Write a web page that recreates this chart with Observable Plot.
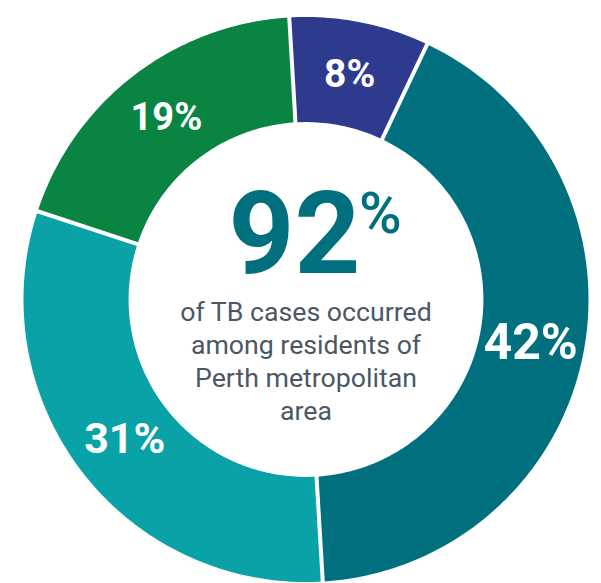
<!DOCTYPE html>
<html><head><meta charset="utf-8">
<script src="https://cdn.jsdelivr.net/npm/d3@7"></script>
<script src="https://cdn.jsdelivr.net/npm/@observablehq/plot@0.6"></script>
<style>html,body{margin:0;padding:0;background:#fff;} #chart svg{display:block}</style>
</head><body><div id="chart"></div>
<script>
// Data
const segments = ["Segment A", "Segment B", "Segment C", "Segment D"];
const shares = [8, 42, 31, 19];
const centerValue = ["92"];
const centerCaption = ["of TB cases occurred\namong residents of\nPerth metropolitan\narea"];

// Styling
const palette = ["#2e3a8e", "#00707f", "#09a3a7", "#0a8442"];
const labelSizes = [39, 50, 43, 38];
const W = 601, H = 583, CX = 305.5, CY = 299, R = 282.5;
const R_IN = 0.628, R_OUT = 1, R_LABEL = 0.81;
const startDeg = -3.4;

const start = startDeg * Math.PI / 180;
const arcs = d3.pie().sort(null).value(d => d.share)
  .startAngle(start).endAngle(start + 2 * Math.PI)(
    segments.map((s, i) => ({segment: s, share: shares[i], i})));

const ring = [];
arcs.forEach(a => {
  const n = Math.max(12, Math.ceil(360 * (a.endAngle - a.startAngle) / (2 * Math.PI)));
  for (let k = 0; k <= n; k++) {
    const t = a.startAngle + (a.endAngle - a.startAngle) * k / n;
    ring.push({segment: a.data.segment, x: R_OUT * Math.sin(t), y: R_OUT * Math.cos(t)});
  }
  for (let k = n; k >= 0; k--) {
    const t = a.startAngle + (a.endAngle - a.startAngle) * k / n;
    ring.push({segment: a.data.segment, x: R_IN * Math.sin(t), y: R_IN * Math.cos(t)});
  }
});

const mid = a => (a.startAngle + a.endAngle) / 2;

const chart = Plot.plot({
  width: W, height: H,
  margin: 0,
  style: {fontFamily: "Roboto, 'Noto Sans', sans-serif", background: "#fff"},
  x: {domain: [-CX / R, (W - CX) / R], range: [0, W], axis: null},
  y: {domain: [-(H - CY) / R, CY / R], range: [H, 0], axis: null},
  color: {domain: segments, range: palette},
  marks: [
    Plot.line(ring, {x: "x", y: "y", z: "segment", fill: "segment", stroke: "none", curve: "linear-closed"}),
    Plot.link(arcs, {
      x1: a => (R_IN - 0.02) * Math.sin(a.startAngle), y1: a => (R_IN - 0.02) * Math.cos(a.startAngle),
      x2: a => (R_OUT + 0.02) * Math.sin(a.startAngle), y2: a => (R_OUT + 0.02) * Math.cos(a.startAngle),
      stroke: "white", strokeWidth: 4
    }),
    ...arcs.map(a => Plot.text([a], {
      x: d => R_LABEL * Math.sin(mid(d)), y: d => R_LABEL * Math.cos(mid(d)),
      text: d => d.data.share + "%", fill: "white", fontSize: labelSizes[a.data.i], fontWeight: 700
    })),
    Plot.text(centerValue, {x: 0, y: 0, text: d => d, dx: -11.5, dy: -63.8, fontSize: 115, fontWeight: 700, fill: "#00707f"}),
    Plot.text(centerValue, {x: 0, y: 0, text: d => "%", textAnchor: "start", dx: 53, dy: -85, fontSize: 58, fontWeight: 500, fill: "#00707f"}),
    Plot.text(centerCaption, {x: 0, y: 0, text: d => d, dy: 60.4, fontSize: 26.7, lineHeight: 1.245, fill: "#4a5866"})
  ]
});
document.getElementById("chart").append(chart);
</script>
</body></html>
